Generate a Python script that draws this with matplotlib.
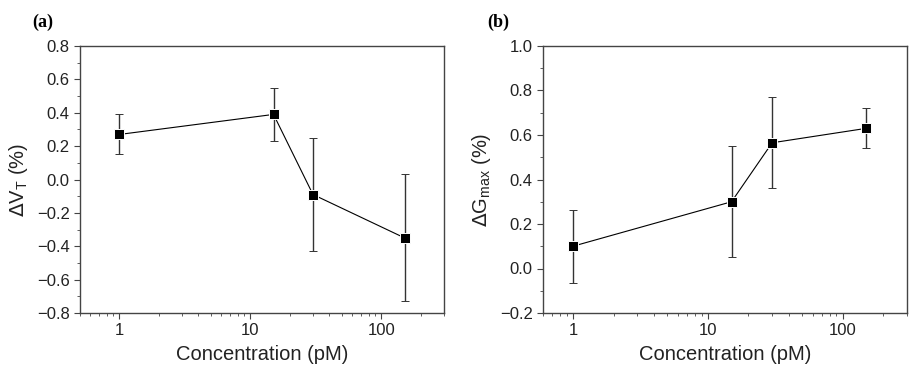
import matplotlib.pyplot as plt
from matplotlib.ticker import MultipleLocator, LogLocator, FixedLocator, FixedFormatter

plt.rcParams['font.family'] = ['Liberation Sans', 'DejaVu Sans']

conc = [1, 15, 30, 150]
dvt = [0.27, 0.39, -0.09, -0.35]
dvt_err = [0.12, 0.16, 0.34, 0.38]
dg = [0.10, 0.30, 0.565, 0.63]
dg_err = [0.165, 0.25, 0.205, 0.09]

fig = plt.figure(figsize=(9.22, 3.78), dpi=100)
ax1 = fig.add_axes([80/922, 1 - 313/378, 364/922, 267/378])
ax2 = fig.add_axes([543/922, 1 - 313/378, 364/922, 267/378])

edge = '#444444'


def style(ax, ylim, ylabel, xlim):
    ax.set_xscale('log')
    ax.set_xlim(*xlim)
    ax.set_ylim(*ylim)
    ax.xaxis.set_major_locator(FixedLocator([1, 10, 100]))
    ax.xaxis.set_major_formatter(FixedFormatter(['1', '10', '100']))
    ax.xaxis.set_minor_locator(LogLocator(base=10, subs=range(2, 10)))
    ax.yaxis.set_major_locator(MultipleLocator(0.2))
    ax.yaxis.set_minor_locator(MultipleLocator(0.1))
    ax.yaxis.set_major_formatter(plt.FuncFormatter(lambda v, p: f'{v:.1f}'.replace('-', '\u2212')))
    ax.tick_params(which='both', direction='out', color=edge, labelsize=12, labelcolor='#222222')
    ax.tick_params(which='major', length=4)
    ax.tick_params(which='minor', length=2)
    for s in ax.spines.values():
        s.set_color(edge)
        s.set_linewidth(1.0)
    ax.set_xlabel('Concentration (pM)', fontsize=14.5, color='#222222', labelpad=5)
    ax.set_ylabel(ylabel, fontsize=14.5, color='#222222', labelpad=5)


ax1.errorbar(conc, dvt, yerr=dvt_err, color='black', marker='s', markersize=7,
             markeredgecolor='white', markeredgewidth=0.7,
             linewidth=0.8, elinewidth=1.0, capsize=3, ecolor='#333333')
style(ax1, (-0.8, 0.8), r'$\Delta$V$_\mathregular{T}$ (%)', (0.5, 300))

ax2.errorbar(conc, dg, yerr=dg_err, color='black', marker='s', markersize=7,
             markeredgecolor='white', markeredgewidth=0.7,
             linewidth=0.8, elinewidth=1.0, capsize=3, ecolor='#333333')
style(ax2, (-0.2, 1.0), r'$\Delta$G$_\mathregular{max}$ (%)', (0.6, 300))

fig.text(32/922, 1 - 22/378, '(a)', family='Liberation Serif', fontweight='bold', fontsize=13, va='center')
fig.text(487/922, 1 - 22/378, '(b)', family='Liberation Serif', fontweight='bold', fontsize=13, va='center')

fig.savefig('out.png', dpi=100)
